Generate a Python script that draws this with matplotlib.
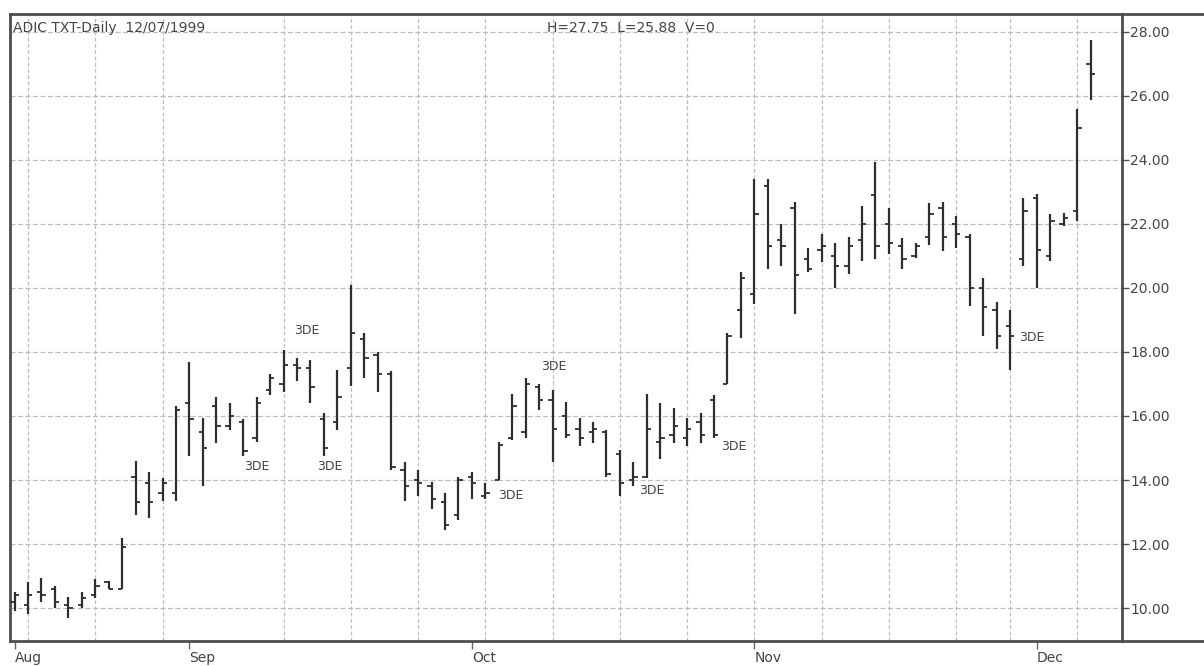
import pandas as pd
import matplotlib.pyplot as plt
from matplotlib.lines import Line2D
import numpy as np

# trading days 13 Aug - 7 Dec 1999 (Labor Day and Thanksgiving closed)
holidays = ["1999-09-06", "1999-11-25"]
dates = pd.bdate_range("1999-08-13", "1999-12-07", freq="C", holidays=holidays)

opens = [10.2, 10.1, 10.5, 10.6, 10.1, 10.1, 10.4, 10.8, 10.6, 14.1,
         13.9, 13.6, 13.6, 16.4, 15.5, 16.3, 15.7, 15.8, 15.3, 16.8,
         17.0, 17.6, 17.5, 15.9, 15.8, 17.5, 18.4, 17.9, 17.3, 14.3,
         14.0, 13.8, 13.3, 12.9, 14.1, 13.5, 14.0, 15.3, 15.5, 16.9,
         16.5, 16.0, 15.6, 15.5, 15.5, 14.8, 14.0, 14.1, 15.2, 15.4,
         15.3, 15.8, 16.5, 17.0, 19.3, 19.8, 23.2, 21.5, 22.5, 20.9,
         21.2, 21.0, 20.7, 21.5, 22.9, 22.0, 21.3, 21.0, 21.6, 22.5,
         22.0, 21.6, 20.0, 19.3, 18.8, 20.9, 22.8, 21.0, 22.0, 22.4,
         27.0]
highs = [10.5, 10.8, 10.95, 10.7, 10.35, 10.5, 10.9, 10.85, 12.2, 14.6,
         14.25, 14.05, 16.3, 17.7, 15.95, 16.6, 16.4, 15.9, 16.6, 17.3,
         18.05, 17.8, 17.75, 16.1, 17.45, 20.1, 18.6, 18.0, 17.4, 14.55,
         14.3, 13.95, 13.6, 14.1, 14.25, 13.9, 15.2, 16.7, 17.2, 17.0,
         16.8, 16.45, 15.95, 15.8, 15.55, 14.95, 14.55, 16.7, 16.4, 16.25,
         15.95, 16.1, 16.65, 18.6, 20.5, 23.4, 23.4, 22.0, 22.7, 21.25,
         21.7, 21.4, 21.6, 22.55, 23.95, 22.5, 21.55, 21.4, 22.65, 22.7,
         22.25, 21.7, 20.3, 19.55, 19.3, 22.8, 22.95, 22.3, 22.35, 25.6,
         27.75]
lows = [9.9, 9.8, 10.2, 10.0, 9.7, 10.0, 10.3, 10.6, 10.6, 12.9,
        12.8, 13.35, 13.35, 14.75, 13.8, 15.15, 15.55, 14.75, 15.2, 16.65,
        16.75, 17.1, 16.4, 14.75, 15.55, 16.95, 17.2, 16.75, 14.3, 13.35,
        13.5, 13.1, 12.45, 12.75, 13.4, 13.4, 14.0, 15.25, 15.3, 16.2,
        14.55, 15.3, 15.05, 15.15, 14.1, 13.5, 13.8, 14.05, 14.65, 15.15,
        15.05, 15.15, 15.3, 17.0, 18.45, 19.5, 20.6, 20.7, 19.2, 20.5,
        20.8, 20.0, 20.45, 20.85, 20.9, 21.05, 20.6, 20.95, 21.35, 21.15,
        21.25, 19.45, 18.5, 18.1, 17.45, 20.7, 20.0, 20.85, 21.95, 22.1,
        25.88]
closes = [10.4, 10.4, 10.4, 10.2, 10.0, 10.3, 10.7, 10.6, 11.9, 13.3,
          13.3, 13.9, 16.2, 15.9, 15.0, 15.7, 16.0, 14.9, 16.4, 17.2,
          17.6, 17.5, 16.9, 15.0, 16.6, 18.6, 17.8, 17.3, 14.4, 13.8,
          13.9, 13.4, 12.6, 14.0, 13.9, 13.6, 15.1, 16.3, 17.0, 16.5,
          15.6, 15.4, 15.3, 15.6, 14.2, 13.9, 14.1, 15.6, 15.3, 15.7,
          15.6, 15.4, 15.4, 18.5, 20.3, 22.3, 21.3, 21.3, 20.4, 20.6,
          21.3, 20.7, 21.3, 22.0, 21.3, 21.4, 20.9, 21.3, 22.3, 21.6,
          21.7, 20.0, 19.4, 18.5, 18.5, 22.4, 21.2, 22.1, 22.2, 25.0,
          26.7]

# "3DE" markers (bar index, price)
label_idx = [18.0, 23.45, 21.75, 36.9, 40.1, 47.4, 53.5, 75.6]
label_price = [14.41, 14.41, 18.66, 13.53, 17.56, 13.66, 15.06, 18.44]

price_ticks = [10, 12, 14, 16, 18, 20, 22, 24, 26, 28]

W, H = 1204, 666
fig = plt.figure(figsize=(W / 100, H / 100), dpi=100)
left, right, top, bottom = 10 / W, 1122 / W, 1 - 14 / H, 1 - 641 / H
ax = fig.add_axes([left, bottom, right - left, top - bottom])

x = np.arange(len(dates))
bar_col = "#2e2e2e"
ax.vlines(x, lows, highs, color=bar_col, lw=1.6, zorder=3)
ax.hlines(opens, x - 0.32, x, color=bar_col, lw=1.3, zorder=3)
ax.hlines(closes, x, x + 0.32, color=bar_col, lw=1.3, zorder=3)

ax.set_xlim(-0.34, 82.33)
ax.set_ylim(8.97, 28.56)

# weekly grid lines on Mondays only
mondays = [i for i, d in enumerate(dates) if d.weekday() == 0]
for i in mondays:
    ax.axvline(i, color="#bdbdbd", lw=0.9, ls=(0, (3, 2)), zorder=1)

ax.set_yticks(price_ticks)
ax.set_yticklabels([f"{v:.2f}" for v in price_ticks])
ax.yaxis.tick_right()
ax.grid(axis="y", color="#bdbdbd", lw=0.9, ls=(0, (4, 2)), zorder=1)
ax.tick_params(axis="y", direction="out", length=5, width=1, colors="#555555",
               labelcolor="#444444", labelsize=10, pad=1)

# month ticks at first trading day of each month
months = pd.Series(dates.month)
month_pos = [0] + [i for i in range(1, len(dates)) if months[i] != months[i - 1]]
ax.set_xticks(month_pos)
ax.set_xticklabels([dates[i].strftime("%b") for i in month_pos], ha="left")
ax.tick_params(axis="x", direction="out", length=6, width=1, colors="#666666",
               labelcolor="#444444", labelsize=10, pad=1)

for sp in ax.spines.values():
    sp.set_color("#4d4d4d")
    sp.set_linewidth(2)

for xi, yi in zip(label_idx, label_price):
    ax.text(xi, yi, "3DE", ha="center", va="center", fontsize=9, color="#444444", zorder=4)

# frame lines continue across the price-label area
fig.add_artist(Line2D([right, 1], [top, top], color="#4d4d4d", lw=2))
fig.add_artist(Line2D([right, 1], [bottom, bottom], color="#4d4d4d", lw=2))

fig.text(13 / W, 1 - 28 / H, "ADIC TXT-Daily  12/07/1999", fontsize=10,
         color="#444444", va="center", ha="left")
fig.text(547 / W, 1 - 28 / H, "H=27.75  L=25.88  V=0", fontsize=10,
         color="#444444", va="center", ha="left")

fig.savefig("out.png", dpi=100, facecolor="white")
